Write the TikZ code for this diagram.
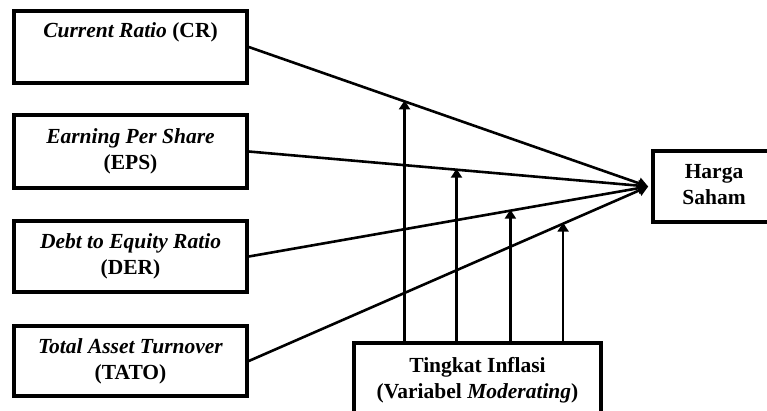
\documentclass[tikz,border=0pt]{standalone}
\usepackage{fontspec}
\setmainfont{Liberation Serif}
\usetikzlibrary{arrows.meta,calc}
\begin{document}
\begin{tikzpicture}[x=1pt,y=-1pt,
  box/.style={draw,line width=3.6pt,rectangle,inner sep=0pt,align=center,
    font=\fontsize{21.5}{26}\selectfont\bfseries},
  link/.style={line width=2.6pt,-{Triangle[length=10pt,width=11pt]}},
  mod/.style={line width=2.6pt,-{Triangle[length=9pt,width=11pt]},shorten >=-1pt}]
\clip (0,0) rectangle (767,410);
\fill[white] (0,0) rectangle (767,410);
\node[box,minimum width=233pt,minimum height=72pt] (cr) at (130.5,47) {\textit{Current Ratio} (CR)\\ \strut};
\node[box,minimum width=233pt,minimum height=73pt] (eps) at (130.5,151.5) {\textit{Earning Per Share}\\(EPS)};
\node[box,minimum width=233pt,minimum height=71pt] (der) at (130.5,256.5) {\textit{Debt to Equity Ratio}\\(DER)};
\node[box,minimum width=233pt,minimum height=70pt] (tato) at (130.5,361) {\textit{Total Asset Turnover}\\(TATO)};
\node[box,minimum width=150pt,minimum height=71pt] (hs) at (728,186.5) {\hspace*{-28pt}\begin{tabular}{@{}c@{}}Harga\\Saham\end{tabular}};
\node[box,minimum width=247pt,minimum height=74pt] (inf) at (477.5,380) {Tingkat Inflasi\\(Variabel \textit{Moderating})};
\coordinate (tip) at ([xshift=-3pt]hs.west);
\draw[link] (cr.east) -- (tip);
\draw[link] (eps.east) -- (tip);
\draw[link] (der.east) -- (tip);
\draw[link] (tato.east) -- (tip);
\coordinate (p1) at ($(cr.east)!0.39!(tip)$);
\coordinate (p2) at ($(eps.east)!0.52!(tip)$);
\coordinate (p3) at ($(der.east)!0.655!(tip)$);
\coordinate (p4) at ($(tato.east)!0.787!(tip)$);
\draw[mod] (inf.north -| p1) -- (p1);
\draw[mod] (inf.north -| p2) -- (p2);
\draw[mod] (inf.north -| p3) -- (p3);
\draw[mod] (inf.north -| p4) -- (p4);
\end{tikzpicture}
\end{document}
